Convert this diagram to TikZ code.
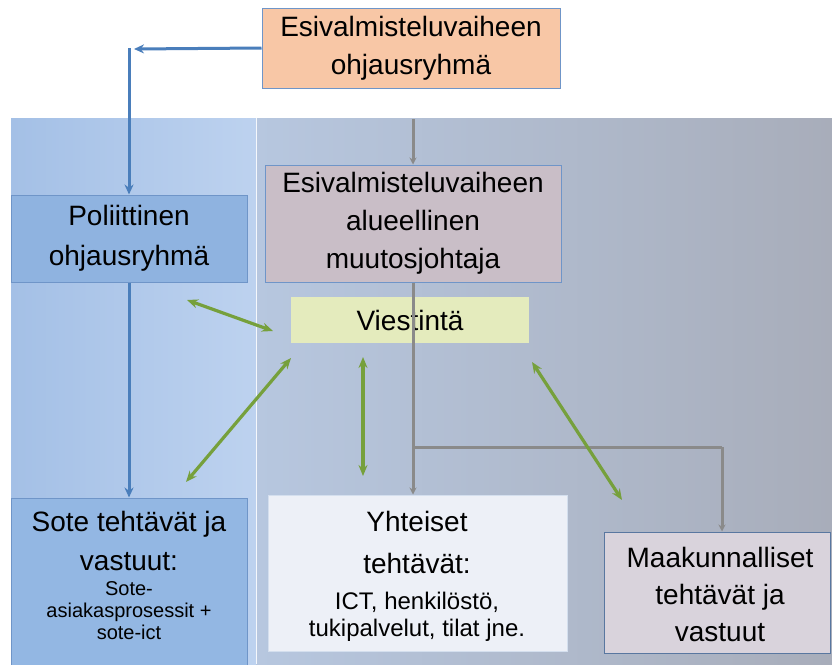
\documentclass[tikz,border=0pt]{standalone}
\usepackage{fontspec}
\setmainfont{Liberation Sans}
\usetikzlibrary{arrows.meta}
\definecolor{peach}{HTML}{F8C7A6}
\definecolor{mauve}{HTML}{C9BEC7}
\definecolor{polblue}{HTML}{8FB3E0}
\definecolor{lime}{HTML}{E4EBBD}
\definecolor{soteblue}{HTML}{93B7E3}
\definecolor{paleyht}{HTML}{EDF0F7}
\definecolor{maakfill}{HTML}{D9D3DC}
\definecolor{edgeblue}{HTML}{6F95C8}
\definecolor{arrblue}{HTML}{4A7EBB}
\definecolor{arrgray}{HTML}{8A8A8A}
\definecolor{arrgreen}{HTML}{76A03C}
\definecolor{bgleftA}{HTML}{A4C0E6}
\definecolor{bgleftB}{HTML}{BDD2EF}
\definecolor{bgmid}{HTML}{CFDCF1}
\definecolor{bgright}{HTML}{A8ADBA}
\tikzset{
  box/.style={draw=edgeblue, line width=1pt, inner sep=0pt},
  big/.style={font=\fontsize{28}{38}\selectfont, align=center, text=black, inner sep=0pt},
  small/.style={font=\fontsize{20}{22}\selectfont, align=center, text=black, inner sep=0pt},
  mid/.style={font=\fontsize{24}{27}\selectfont, align=center, text=black, inner sep=0pt},
  bluearr/.style={draw=arrblue, line width=3pt, -{Stealth[length=10pt,width=9pt]}},
  grayarr/.style={draw=arrgray, line width=3pt, -{Stealth[length=7pt,width=7pt]}},
  graylin/.style={draw=arrgray, line width=3pt},
  greenarr/.style={draw=arrgreen, line width=3.2pt, {Stealth[length=11pt,width=9pt]}-{Stealth[length=11pt,width=9pt]}}
}
\begin{document}
\begin{tikzpicture}[x=1pt,y=-1pt]
\useasboundingbox (0,0) rectangle (832,664);
\fill[white] (0,0) rectangle (832,664);
% background panel
\shade[left color=bgleftB, middle color=bgmid, right color=bgright] (11,118) rectangle (832,664);
\shade[left color=bgleftA, right color=bgleftB] (11,118) rectangle (256,664);
\draw[white!80!bgmid, line width=1pt] (256,118) -- (256,664);

% boxes
\node[box, fill=peach, minimum width=298pt, minimum height=80pt, big] (ohj) at (411,48) {Esivalmisteluvaiheen\\ohjausryhmä};
\node[box, fill=mauve, minimum width=296pt, minimum height=117pt, big] (alue) at (413,223.5) {Esivalmisteluvaiheen\\alueellinen\\muutosjohtaja};
\node[box, fill=polblue, minimum width=236pt, minimum height=87pt, font=\fontsize{28}{40}\selectfont, align=center, inner sep=0pt] (pol) at (129,238.5) {Poliittinen\\ohjausryhmä};
\node[box, draw=none, fill=lime, minimum width=238pt, minimum height=46pt, big] (viest) at (410,320) {Viestintä};
\node[box, fill=soteblue, minimum width=236pt, minimum height=172pt] (sote) at (129,584) {};
\node[box, draw=white!70!edgeblue, fill=paleyht, minimum width=299pt, minimum height=156pt] (yht) at (417.5,573) {};
\node[box, draw=edgeblue!80!black, fill=maakfill, minimum width=226pt, minimum height=121pt] (maak) at (717,592.5) {};

% texts
\node[font=\fontsize{28}{39}\selectfont, align=center, inner sep=0pt] (sotet1) at (129,541) {Sote tehtävät ja\\vastuut:};
\node[small] (sotet2) at (129,611) {Sote-\\asiakasprosessit +\\sote-ict};
\node[font=\fontsize{28}{42}\selectfont, align=center, inner sep=0pt] (yhtt1) at (417,542) {Yhteiset\\tehtävät:};
\node[mid] (yhtt2) at (417,617) {ICT, henkilöstö,\\tukipalvelut, tilat jne.};
\node[font=\fontsize{28}{37}\selectfont, align=center, inner sep=0pt] (maakt) at (720,594) {Maakunnalliset\\tehtävät ja\\vastuut};

% blue connectors
\coordinate (cL) at (134,49);
\coordinate (cT) at (129,48);
\draw[bluearr] (ohj.west) -- (cL);
\draw[bluearr] (cT) -- (pol.north);
\draw[bluearr] (pol.south) -- (sote.north);

% gray connectors
\coordinate (gT) at (413,119);
\coordinate (br) at (413,447);
\coordinate (brR) at (722,447);
\draw[grayarr] (gT) -- (alue.north);
\draw[grayarr] (alue.south) -- (alue.south |- yht.north);
\draw[graylin] (br) -- (brR);
\draw[grayarr] (brR) -- (brR |- maak.north);

% green connectors
\coordinate (g1a) at (187,300);
\coordinate (g1b) at (273,331);
\coordinate (g2a) at (291,358);
\coordinate (g2b) at (186,482);
\coordinate (g3a) at (363,357);
\coordinate (g3b) at (363,476);
\coordinate (g4a) at (532,362);
\coordinate (g4b) at (622,500);
\draw[greenarr] (g1a) -- (g1b);
\draw[greenarr] (g2a) -- (g2b);
\draw[greenarr] (g3a) -- (g3b);
\draw[greenarr] (g4a) -- (g4b);
\end{tikzpicture}
\end{document}
